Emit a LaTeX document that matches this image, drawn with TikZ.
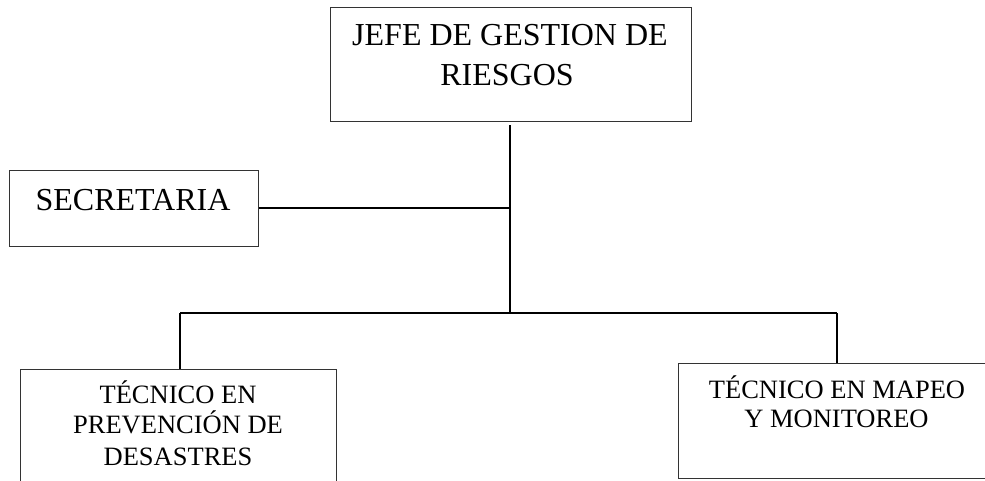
\documentclass[tikz,border=0pt]{standalone}
\usepackage{fontspec}
\setmainfont{Liberation Serif}
\begin{document}
\begin{tikzpicture}[x=1pt,y=-1pt,
  boxnode/.style={draw=black!80,line width=1pt,rectangle,inner sep=0pt},
  bigtext/.style={font=\fontsize{32}{40}\selectfont,inner sep=0pt,anchor=base},
  smalltext/.style={font=\fontsize{26.5}{31}\selectfont,inner sep=0pt,anchor=base},
  link/.style={draw=black,line width=1.6pt}]
\clip (0,0) rectangle (985,480);
\fill[white] (0,0) rectangle (985,480);
% boxes
\node[boxnode,minimum width=361pt,minimum height=114pt] (jefe) at (510.5,64) {};
\node[boxnode,minimum width=249pt,minimum height=76pt] (sec) at (133.5,208) {};
\node[boxnode,minimum width=316pt,minimum height=122pt] (prev) at (178,430) {};
\node[boxnode,minimum width=318pt,minimum height=115pt] (mapeo) at (837,420.5) {};
% texts
\node[bigtext] (jefeA) at (510,45) {JEFE DE GESTION DE};
\node[bigtext] (jefeB) at (507,85) {RIESGOS};
\node[bigtext] (secA) at (133,210) {SECRETARIA};
\node[smalltext] (prevA) at (178,403) {TÉCNICO EN};
\node[smalltext] (prevB) at (178,433) {PREVENCIÓN DE};
\node[smalltext] (prevC) at (178,465) {DESASTRES};
\node[smalltext] (mapA) at (837,398) {TÉCNICO EN MAPEO};
\node[smalltext] (mapB) at (836.5,427) {Y MONITOREO};
% connectors
\coordinate (top) at (510,125);
\coordinate (bus) at (510,313);
\coordinate (busL) at (180,313);
\coordinate (busR) at (837,313);
\draw[link] (top) -- (bus);
\draw[link] (sec.east) -- (sec.east -| bus);
\draw[link] (busL) -- (busR);
\draw[link] (busL) -- (busL |- prev.north);
\draw[link] (busR) -- (busR |- mapeo.north);
\end{tikzpicture}
\end{document}
